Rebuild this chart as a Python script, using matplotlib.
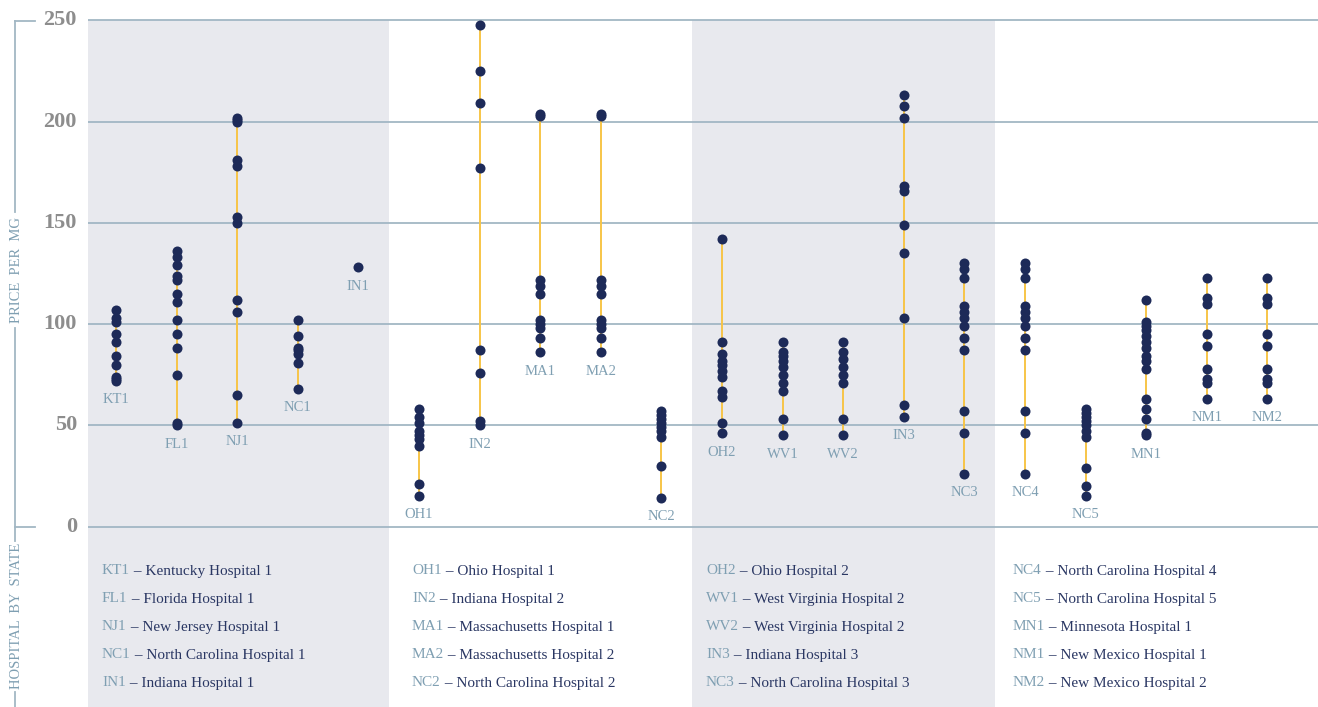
import matplotlib
matplotlib.use("Agg")
import matplotlib.pyplot as plt
from matplotlib.patches import Rectangle

# 字体
plt.rcParams['font.family'] = ['Liberation Serif', 'DejaVu Serif']

# 医院代码与名称
codes = ['KT1', 'FL1', 'NJ1', 'NC1', 'IN1',
         'OH1', 'IN2', 'MA1', 'MA2', 'NC2',
         'OH2', 'WV1', 'WV2', 'IN3', 'NC3',
         'NC4', 'NC5', 'MN1', 'NM1', 'NM2']
names = ['Kentucky Hospital 1', 'Florida Hospital 1', 'New Jersey Hospital 1',
         'North Carolina Hospital 1', 'Indiana Hospital 1',
         'Ohio Hospital 1', 'Indiana Hospital 2', 'Massachusetts Hospital 1',
         'Massachusetts Hospital 2', 'North Carolina Hospital 2',
         'Ohio Hospital 2', 'West Virginia Hospital 2', 'West Virginia Hospital 2',
         'Indiana Hospital 3', 'North Carolina Hospital 3',
         'North Carolina Hospital 4', 'North Carolina Hospital 5',
         'Minnesota Hospital 1', 'New Mexico Hospital 1', 'New Mexico Hospital 2']

# 每家医院的每毫克价格
kt1 = [107, 103, 101, 95, 91, 84, 80, 74, 73, 72]
fl1 = [136, 133, 129, 124, 122, 115, 111, 102, 95, 88, 75, 51, 50]
nj1 = [202, 201, 200, 181, 178, 153, 150, 112, 106, 65, 51]
nc1 = [102, 94, 88, 87, 85, 81, 68]
in1 = [128]
oh1 = [58, 54, 51, 47, 45, 43, 40, 21, 15]
in2 = [248, 225, 209, 177, 87, 76, 52, 50]
ma1 = [204, 203, 122, 119, 115, 102, 100, 98, 93, 86]
ma2 = [204, 203, 122, 119, 115, 102, 100, 98, 93, 86]
nc2 = [57, 55, 53, 51, 49, 47, 44, 30, 14]
oh2 = [142, 91, 85, 82, 80, 77, 74, 67, 64, 51, 46]
wv1 = [91, 86, 84, 82, 79, 75, 71, 67, 53, 45]
wv2 = [91, 86, 83, 79, 75, 71, 53, 45]
in3 = [213, 208, 202, 168, 166, 149, 135, 103, 60, 54]
nc3 = [130, 127, 123, 109, 106, 103, 99, 93, 87, 57, 46, 26]
nc4 = [130, 127, 123, 109, 106, 103, 99, 93, 87, 57, 46, 26]
nc5 = [58, 56, 54, 52, 50, 47, 44, 29, 20, 15]
mn1 = [112, 101, 99, 97, 94, 91, 88, 84, 82, 78, 63, 58, 53, 46, 45]
nm1 = [123, 113, 110, 95, 89, 78, 73, 71, 63]
nm2 = [123, 113, 110, 95, 89, 78, 73, 71, 63]

prices = [kt1, fl1, nj1, nc1, in1, oh1, in2, ma1, ma2, nc2,
          oh2, wv1, wv2, in3, nc3, nc4, nc5, mn1, nm1, nm2]
y_ticks = [0, 50, 100, 150, 200, 250]

# 颜色
navy = '#1d2a58'
orange = '#f7c548'
grid_c = '#a2b7c4'
label_c = '#7f9fb2'
shade = '#e8e9ee'
tick_c = '#8d8d8d'
text_c = '#2a3763'

# 画布（像素布局）
W, H = 1318, 707
y0_px, y250_px = 526.5, 20.5
px_per_unit = (y0_px - y250_px) / 250
left_px = 88
x0_px, step_px = 116, 60.6

fig = plt.figure(figsize=(W / 100, H / 100), dpi=100)
ax = fig.add_axes([left_px / W, 0, (W - left_px) / W, 1])
ax.set_xlim((left_px - x0_px) / step_px, (W - x0_px) / step_px)
ax.set_ylim(-(H - y0_px) / px_per_unit, 250 + y250_px / px_per_unit)
ax.axis('off')
ybot = ax.get_ylim()[0]

## 灰色分组背景
for g in [0, 2]:
    ax.add_patch(Rectangle((g * 5 - 0.5, ybot), 5, 250 - ybot,
                           color=shade, lw=0, zorder=0))

## 网格线
for v in y_ticks:
    ax.axhline(v, color=grid_c, lw=1.3, zorder=1)
    ax.annotate(str(v), xy=(0, v), xycoords=('axes fraction', 'data'),
                xytext=(-8, 0), textcoords='offset points', ha='right', va='center',
                fontsize=16, fontweight='bold', color=tick_c, annotation_clip=False)

## 竖线 + 点 + 标签
for i, vals in enumerate(prices):
    ax.vlines(i, min(vals), max(vals), color=orange, lw=1.4, zorder=2)
    ax.scatter([i] * len(vals), vals, s=52, color=navy, lw=0, zorder=3, clip_on=False)
    ax.annotate(codes[i], xy=(i, min(vals)), xytext=(0, -16), textcoords='offset points',
                ha='center', va='baseline', fontsize=10.5, color=label_c)

# 左侧坐标轴装饰
deco = fig.add_axes([0, 0, 1, 1], facecolor='none')
deco.set_xlim(0, W)
deco.set_ylim(H, 0)
deco.axis('off')
lx = 15
for ya, yb in [(y250_px, 212), (328, 541), (692, H)]:
    deco.plot([lx, lx], [ya, yb], color=grid_c, lw=1.3)
for yy in [y250_px, y0_px]:
    deco.plot([lx, lx + 20], [yy, yy], color=grid_c, lw=1.3)
deco.text(lx + 2, 270, 'PRICE  PER  MG', rotation=90, ha='center', va='center',
          fontsize=10.5, color=label_c)
deco.text(lx + 2, 616, 'HOSPITAL  BY  STATE', rotation=90, ha='center', va='center',
          fontsize=10.5, color=label_c)

# 图例
col_x = [102, 412, 706, 1013]
row_y = [571, 599, 627, 655, 683]
for i, (c, n) in enumerate(zip(codes, names)):
    t = deco.text(col_x[i // 5], row_y[i % 5], c, ha='left', va='center',
                  fontsize=11, color=label_c)
    deco.annotate(' \u2013 ' + n, xy=(1, 0.5), xycoords=t, ha='left', va='center',
                  fontsize=11, color=text_c)

fig.savefig('out.png', dpi=100)
